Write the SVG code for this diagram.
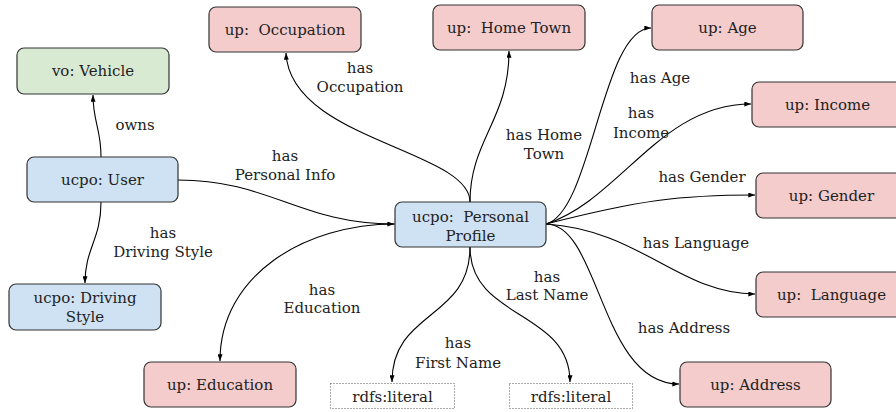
<svg xmlns="http://www.w3.org/2000/svg" width="896" height="412" viewBox="0 0 896 412">
<defs>
<style>
.n rect{stroke:#333;stroke-width:1.2}
.pink rect{fill:#f4cccc}
.blue rect{fill:#cfe2f3}
.green rect{fill:#d9ead3}
.lit rect{fill:#fff;stroke:#555;stroke-width:1;stroke-dasharray:1,2}
text{font-family:"DejaVu Serif","Liberation Serif",serif;font-size:15px;fill:#222;text-anchor:middle;white-space:pre}
.e path{fill:none;stroke:#000;stroke-width:1.1;marker-end:url(#ah)}
</style>
<marker id="ah" viewBox="0 0 8 6" refX="8" refY="3" markerWidth="7" markerHeight="5" orient="auto" markerUnits="userSpaceOnUse">
<path d="M0,0 L8,3 L0,6 Z" fill="#000"/>
</marker>
</defs>
<g id="edges" class="e">
<path d="M101,157 C101,128 93,122 93,95"/>
<path d="M101,202 C101,240 85,248 85,283"/>
<path d="M178,180 C270,180 300,224 394,224"/>
<path d="M395,224 C305,224 220,275 220,361"/>
<path d="M470,202 C470,150 290,140 286,53"/>
<path d="M470,202 C470,140 509,120 509,51"/>
<path d="M546,224 C592,212 602,28 651,28"/>
<path d="M546,224 C620,200 660,104 751,104"/>
<path d="M546,224 C640,200 680,195 755,195"/>
<path d="M546,224 C640,230 680,294 755,294"/>
<path d="M546,224 C600,224 600,384 679,384"/>
<path d="M470,247 C470,320 570,310 570,382"/>
<path d="M470,247 C470,320 392,310 392,382"/>
</g>
<g id="edge-labels">
<text x="135" y="130">owns</text>
<text x="285" y="161">has</text>
<text x="285" y="180">Personal Info</text>
<text x="360" y="73">has</text>
<text x="360" y="92">Occupation</text>
<text x="544" y="140">has Home</text>
<text x="544" y="159">Town</text>
<text x="660" y="83">has Age</text>
<text x="641" y="118">has</text>
<text x="641" y="138">Income</text>
<text x="702" y="182">has Gender</text>
<text x="696" y="248">has Language</text>
<text x="684" y="333">has Address</text>
<text x="547" y="282">has</text>
<text x="547" y="300">Last Name</text>
<text x="458" y="348">has</text>
<text x="458" y="368">First Name</text>
<text x="322" y="295">has</text>
<text x="322" y="313">Education</text>
<text x="163" y="238">has</text>
<text x="163" y="257">Driving Style</text>
</g>
<g id="occupation" class="n pink"><rect x="209" y="7" width="152" height="45" rx="7"/><text x="285" y="35">up:  Occupation</text></g>
<g id="hometown" class="n pink"><rect x="433" y="5" width="152" height="45" rx="7"/><text x="509" y="33">up:  Home Town</text></g>
<g id="age" class="n pink"><rect x="652" y="5" width="151" height="45" rx="7"/><text x="727.5" y="33">up: Age</text></g>
<g id="income" class="n pink"><rect x="752" y="82" width="151" height="45" rx="7"/><text x="827.5" y="110">up: Income</text></g>
<g id="gender" class="n pink"><rect x="756" y="173" width="151" height="45" rx="7"/><text x="831.5" y="201">up: Gender</text></g>
<g id="language" class="n pink"><rect x="756" y="272" width="151" height="45" rx="7"/><text x="831.5" y="300">up:  Language</text></g>
<g id="address" class="n pink"><rect x="680" y="362" width="151" height="45" rx="7"/><text x="755.5" y="390">up: Address</text></g>
<g id="education" class="n pink"><rect x="144" y="362" width="152" height="45" rx="7"/><text x="220" y="390">up: Education</text></g>
<g id="vehicle" class="n green"><rect x="17" y="48" width="152" height="46" rx="7"/><text x="93" y="76">vo: Vehicle</text></g>
<g id="user" class="n blue"><rect x="27" y="157" width="151" height="45" rx="7"/><text x="102.5" y="185">ucpo: User</text></g>
<g id="drivingstyle" class="n blue"><rect x="9" y="284" width="152" height="46" rx="7"/><text x="85" y="302.5">ucpo: Driving</text><text x="85" y="321.5">Style</text></g>
<g id="personalprofile" class="n blue"><rect x="395" y="202" width="151" height="45" rx="7"/><text x="470.5" y="222">ucpo:  Personal</text><text x="470.5" y="241">Profile</text></g>
<g id="literal1" class="lit"><rect x="330.5" y="383.5" width="124" height="25"/><text x="392.5" y="402">rdfs:literal</text></g>
<g id="literal2" class="lit"><rect x="509.5" y="383.5" width="123" height="25"/><text x="571" y="402">rdfs:literal</text></g>
</svg>
